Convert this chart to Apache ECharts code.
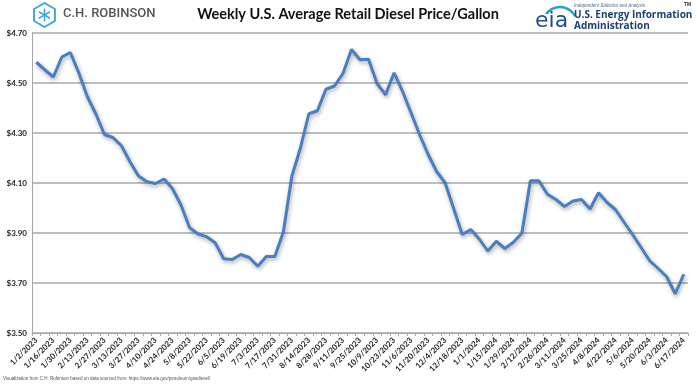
<!DOCTYPE html>
<html>
<head>
<meta charset="utf-8">
<script src="https://cdn.jsdelivr.net/npm/echarts@6/dist/echarts.min.js"></script>
<style>
html,body{margin:0;padding:0;background:#fff;}
#chart{width:700px;height:388px;}
</style>
</head>
<body>
<div id="chart"></div>
<script>
var titleText = 'Weekly U.S. Average Retail Diesel Price/Gallon';
var footerText = 'Visualization from C.H. Robinson based on data sourced from: https://www.eia.gov/petroleum/gasdiesel/';

var weeks = [
 '1/2/2023','1/9/2023','1/16/2023','1/23/2023','1/30/2023','2/6/2023','2/13/2023','2/20/2023','2/27/2023',
 '3/6/2023','3/13/2023','3/20/2023','3/27/2023','4/3/2023','4/10/2023','4/17/2023','4/24/2023',
 '5/1/2023','5/8/2023','5/15/2023','5/22/2023','5/29/2023','6/5/2023','6/12/2023','6/19/2023','6/26/2023',
 '7/3/2023','7/10/2023','7/17/2023','7/24/2023','7/31/2023','8/7/2023','8/14/2023','8/21/2023','8/28/2023',
 '9/4/2023','9/11/2023','9/18/2023','9/25/2023','10/2/2023','10/9/2023','10/16/2023','10/23/2023','10/30/2023',
 '11/6/2023','11/13/2023','11/20/2023','11/27/2023','12/4/2023','12/11/2023','12/18/2023','12/25/2023',
 '1/1/2024','1/8/2024','1/15/2024','1/22/2024','1/29/2024','2/5/2024','2/12/2024','2/19/2024','2/26/2024',
 '3/4/2024','3/11/2024','3/18/2024','3/25/2024','4/1/2024','4/8/2024','4/15/2024','4/22/2024','4/29/2024',
 '5/6/2024','5/13/2024','5/20/2024','5/27/2024','6/3/2024','6/10/2024','6/17/2024'
];

var dieselPrice = [
 4.583,4.553,4.524,4.604,4.622,4.540,4.445,4.376,4.294,
 4.282,4.249,4.185,4.128,4.105,4.098,4.116,4.077,
 4.011,3.921,3.896,3.885,3.861,3.797,3.794,3.814,3.802,
 3.767,3.806,3.806,3.903,4.127,4.239,4.377,4.389,4.475,
 4.488,4.538,4.634,4.593,4.595,4.498,4.453,4.541,4.466,
 4.380,4.293,4.214,4.146,4.100,3.997,3.894,3.914,
 3.876,3.828,3.867,3.838,3.863,3.899,4.109,4.109,4.055,
 4.034,4.006,4.028,4.034,3.996,4.061,4.022,3.993,3.943,
 3.894,3.842,3.789,3.758,3.725,3.657,3.735
];

var yMin = 3.5, yMax = 4.7, yStep = 0.2;

var chart = echarts.init(document.getElementById('chart'));

var cx = 44.5, cy = 15, r = 12;
var hex = [];
for (var k = 0; k < 6; k++) {
  var a = Math.PI / 180 * (60 * k - 90);
  hex.push([cx + r * Math.cos(a), cy + r * Math.sin(a)]);
}
var ri = 6.5;
var inner = [];
for (var k2 = 0; k2 < 6; k2++) {
  var a2 = Math.PI / 180 * (60 * k2 - 90);
  inner.push([cx + ri * Math.cos(a2), cy + ri * Math.sin(a2)]);
}
var iconColor = '#3ea6dd';

var option = {
  backgroundColor: '#ffffff',
  animation: false,
  grid: {left: 32, right: 12, top: 33, bottom: 55, containLabel: false},
  xAxis: {
    type: 'category',
    data: weeks,
    boundaryGap: true,
    axisLine: {show: true, lineStyle: {color: '#a6a6a6', width: 1}},
    axisTick: {show: true, interval: 0, length: 3, lineStyle: {color: '#a6a6a6'}},
    axisLabel: {
      interval: 1, rotate: 45, fontSize: 8, fontWeight: 'bold',
      color: '#262626', margin: 6, fontFamily: 'Lato'
    },
    splitLine: {show: false}
  },
  yAxis: {
    type: 'value',
    min: yMin, max: yMax, interval: yStep,
    axisLine: {show: true, lineStyle: {color: '#a6a6a6', width: 1}},
    axisTick: {show: false},
    axisLabel: {
      formatter: function (v) { return '$' + v.toFixed(2); },
      fontSize: 8, fontWeight: 'bold', color: '#262626', margin: 5, fontFamily: 'Lato'
    },
    splitLine: {show: true, lineStyle: {color: '#a9a9a9', width: 1.5}}
  },
  series: [{
    type: 'line',
    data: dieselPrice,
    symbol: 'none',
    smooth: false,
    lineStyle: {
      color: '#4a7ebf', width: 3,
      shadowColor: 'rgba(0,0,0,0.35)', shadowBlur: 4, shadowOffsetX: 1, shadowOffsetY: 2
    },
    z: 3
  }],
  graphic: [
    {type: 'polygon', shape: {points: hex}, style: {fill: 'none', stroke: iconColor, lineWidth: 2, lineJoin: 'round'}},
    {type: 'polyline', shape: {points: [inner[0], [cx, cy], inner[2]]}, style: {stroke: iconColor, lineWidth: 1.5, fill: 'none'}},
    {type: 'polyline', shape: {points: [[cx, cy], inner[4]]}, style: {stroke: iconColor, lineWidth: 1.5, fill: 'none'}},
    {type: 'polyline', shape: {points: [inner[5], [cx, cy], inner[1]]}, style: {stroke: iconColor, lineWidth: 1.5, fill: 'none'}},
    {type: 'polyline', shape: {points: [[cx, cy], inner[3]]}, style: {stroke: iconColor, lineWidth: 1.5, fill: 'none'}},
    {type: 'text', left: 63, top: 7, style: {text: 'C.H. ROBINSON', font: '500 13px Roboto', fill: '#555555'}},
    {type: 'text', x: 348, y: 14, style: {text: titleText, font: 'bold 14.5px Lato', fill: '#111111', textAlign: 'center', textVerticalAlign: 'middle'}},
    {type: 'arc', shape: {cx: 560, cy: 24, r: 17, startAngle: Math.PI * 1.2, endAngle: Math.PI * 1.85}, style: {stroke: '#2a9bd8', lineWidth: 2.5, fill: 'none'}},
    {type: 'text', left: 535, top: 10, style: {text: 'eia', font: '22px "DejaVu Sans"', fill: '#1d4f8f'}},
    {type: 'text', left: 574, top: 3, style: {text: 'Independent Statistics and Analysis', font: 'italic 4.5px "Liberation Sans"', fill: '#4a6a8f'}},
    {type: 'text', left: 574, top: 10, style: {text: 'U.S. Energy Information', font: 'bold 10px "Open Sans"', fill: '#1d3f73'}},
    {type: 'text', left: 574, top: 21, style: {text: 'Administration', font: 'bold 10px "Open Sans"', fill: '#1d3f73'}},
    {type: 'text', left: 684, top: 2, style: {text: 'TM', font: 'bold 5px "Liberation Sans"', fill: '#333'}},
    {type: 'text', left: 3, top: 376, style: {text: footerText, font: '4.5px "Liberation Sans"', fill: '#555'}}
  ]
};
chart.setOption(option);
</script>
</body>
</html>
